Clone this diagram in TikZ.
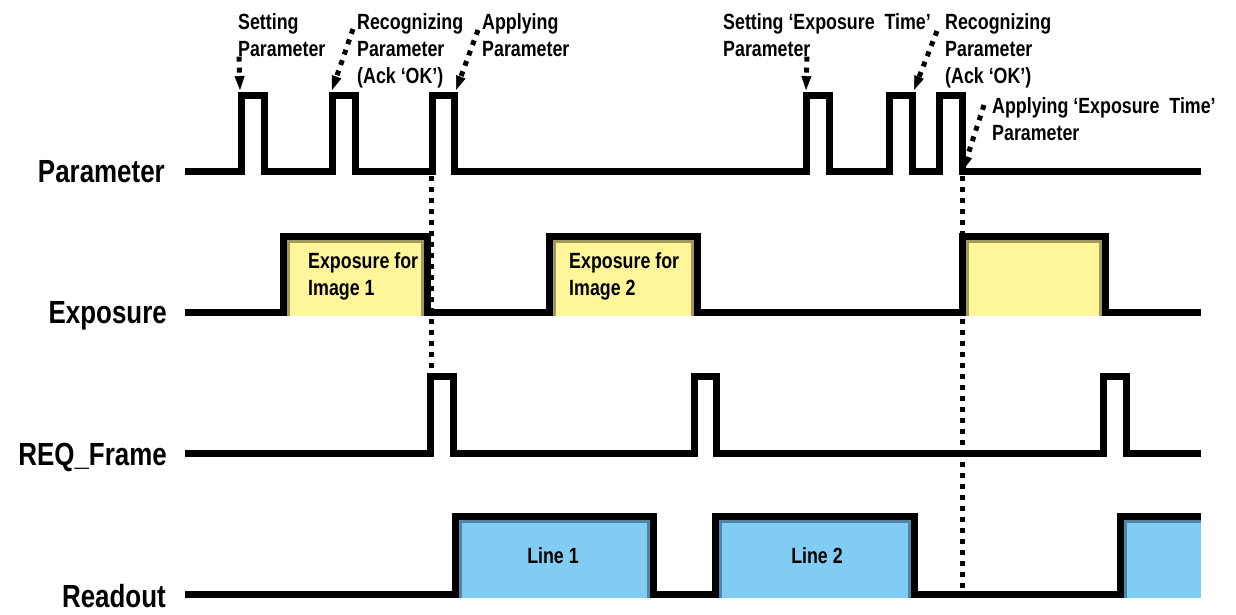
\documentclass[tikz,border=0pt]{standalone}
\usepackage{fontspec}
\setmainfont{Liberation Sans}
\newfontfamily\narrowfont{Liberation Sans}[FakeStretch=0.81]
\usepackage{tikz}
\usetikzlibrary{arrows.meta, calc}
\definecolor{expfill}{HTML}{FFF599}
\definecolor{expedge}{HTML}{A09A5E}
\definecolor{readfill}{HTML}{80CCF2}
\definecolor{readedge}{HTML}{4F86A3}

\begin{document}
\begin{tikzpicture}[x=1pt, y=-1pt,
  signal/.style={line width=7pt, line join=miter},
  rowlabel/.style={anchor=base east, inner sep=0pt, font=\narrowfont\fontsize{32}{38}\selectfont\bfseries},
  note/.style={anchor=north west, inner sep=0pt, align=left, font=\narrowfont\fontsize{22}{27}\selectfont\bfseries},
  boxlabel/.style={inner sep=0pt, align=left, font=\narrowfont\fontsize{22}{27}\selectfont\bfseries},
  expbox/.style={fill=expfill, draw=expedge, line width=3pt},
  readbox/.style={fill=readfill, draw=readedge, line width=3pt},
  pointer/.style={-{Triangle[length=14pt, width=10pt, line width=0.5pt]}, line width=5pt, dash pattern=on 5pt off 6pt},
  guide/.style={line width=5pt, dash pattern=on 5pt off 6pt}
]
  \useasboundingbox (0,0) rectangle (1236,614);

  % row names
  \node[rowlabel] (paramrow) at (165,182) {Parameter};
  \node[rowlabel] (exprow) at (167,323) {Exposure};
  \node[rowlabel] (reqrow) at (167,465) {REQ\_Frame};
  \node[rowlabel] (readrow) at (166,607) {Readout};

  % coloured boxes
  \foreach \a/\b in {283/427, 549/697, 962/1105}
    \filldraw[expbox] (\a+5,316) |- (\b-5,241) -- (\b-5,316);
  \foreach \a/\b in {455/653, 715/914}
    \filldraw[readbox] (\a+5,598) |- (\b-5,521) -- (\b-5,598);
  \fill[readfill] (1123,519) rectangle (1201,598);
  \draw[readedge, line width=3pt] (1125,598) |- (1201,521);

  % signals
  \draw[signal] (185,171) \foreach \a/\b in {241/264, 332/355, 432/454, 806/829, 889/912, 939/962} { -| (\a,95) -| (\b,171) } -- (1201,171);
  \draw[signal] (185,312) \foreach \a/\b in {283/427, 549/697, 962/1105} { -| (\a,236) -| (\b,312) } -- (1201,312);
  \draw[signal] (185,453) \foreach \a/\b in {430/453, 694/716, 1103/1126} { -| (\a,376) -| (\b,453) } -- (1201,453);
  \draw[signal] (185,594) -| (455,516) -| (653,594) -| (715,516) -| (914,594) -| (1120,516) -- (1201,516);

  % box texts
  \node[boxlabel, anchor=north west] (expone) at (308,252) {Exposure for\\Image 1};
  \node[boxlabel, anchor=north west] (exptwo) at (569,252) {Exposure for\\Image 2};
  \node[boxlabel] (lineone) at (553,556) {Line 1};
  \node[boxlabel] (linetwo) at (817,556) {Line 2};

  % notes
  \node[note] (setone) at (238,13) {Setting\\Parameter};
  \node[note] (recogone) at (357,13) {Recognizing\\Parameter\\(Ack ‘OK’)};
  \node[note] (applyone) at (482,13) {Applying\\Parameter};
  \node[note] (settwo) at (723,13) {Setting ‘Exposure\ \ Time’\\Parameter};
  \node[note] (recogtwo) at (945,13) {Recognizing\\Parameter\\(Ack ‘OK’)};
  \node[note] (applytwo) at (992,97) {Applying ‘Exposure\ \ Time’\\Parameter};

  \coordinate (setonetip) at (240,90);
  \coordinate (recogonetip) at (332,90);
  \coordinate (applyonetip) at (456,90);
  \coordinate (settwotip) at (806,90);
  \coordinate (recogtwotip) at (914,90);
  \coordinate (applytwotip) at (963,170);

  \draw[pointer] ([xshift=1pt]setone.south west) -- (setonetip);
  \draw[pointer] ([shift={(-4,16)}]recogone.north west) -- (recogonetip);
  \draw[pointer] ([shift={(-4,17)}]applyone.north west) -- (applyonetip);
  \draw[pointer] ([xshift=84pt]settwo.south west) -- (settwotip);
  \draw[pointer] ([shift={(-8,18)}]recogtwo.north west) -- (recogtwotip);
  \draw[pointer] ([shift={(-8,8)}]applytwo.north west) -- (applytwotip);

  % timing guides
  \coordinate (applyonebase) at (431,176);
  \coordinate (reqonetop) at (431,372);
  \coordinate (applytwobase) at (962,176);
  \coordinate (readlow) at (962,594);
  \draw[guide] (applyonebase) -- (reqonetop);
  \draw[guide] (applytwobase) -- (readlow);
\end{tikzpicture}
\end{document}
